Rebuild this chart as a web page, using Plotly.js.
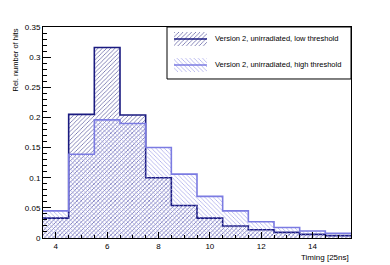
<!DOCTYPE html>
<html>
<head>
<meta charset="utf-8">
<script src="https://cdn.plot.ly/plotly-3.0.1.min.js"></script>
<style>html,body{margin:0;padding:0;background:#fff;}#chart{width:390px;height:265px;}</style>
</head>
<body>
<div id="chart"></div>
<script>
// Bin centres (Timing [25ns]), bin width 1
const binCenters = [4, 5, 6, 7, 8, 9, 10, 11, 12, 13, 14, 15];
const lowThreshold  = [0.033, 0.205, 0.316, 0.204, 0.100, 0.054, 0.033, 0.020, 0.0137, 0.0093, 0.006, 0.004];
const highThreshold = [0.045, 0.139, 0.196, 0.190, 0.150, 0.106, 0.069, 0.045, 0.027, 0.0175, 0.0116, 0.008];
const seriesNames = ["Version 2, unirradiated, low threshold", "Version 2, unirradiated, high threshold"];
const xTitle = "Timing [25ns]";
const yTitle = "Rel. number of hits";

function stepXY(centers, vals) {
  const xs = [], ys = [];
  centers.forEach((c, i) => { xs.push(c - 0.5); ys.push(vals[i]); });
  xs.push(centers[centers.length - 1] + 0.5);
  ys.push(vals[vals.length - 1]);
  return {xs, ys};
}

const darkCol = '#1a1a80';
const lightCol = '#7b7be2';
const darkHatch = '#4a4a96';
const lightHatch = '#9a9ae8';
const font = 'Liberation Sans, Arial, sans-serif';
const patSize = 3, patSolid = 0.22;

const lo = stepXY(binCenters, lowThreshold);
const hi = stepXY(binCenters, highThreshold);

function histTrace(st, name, col, hatch, shape) {
  return {
    type: 'scatter', mode: 'lines', name: name, showlegend: false,
    x: st.xs, y: st.ys,
    line: {shape: 'hv', color: col, width: 1.6},
    fill: 'tozeroy', fillcolor: 'rgba(0,0,0,0)',
    fillpattern: {shape: shape, size: patSize, solidity: patSolid, fgcolor: hatch, bgcolor: 'rgba(0,0,0,0)'},
    hoverinfo: 'skip'
  };
}

// Legend swatches drawn in a separate hidden 0..1 axis box placed where the legend sits
const rowY = [0.77, 0.27], halfH = 0.135, swX0 = 0.038, swX1 = 0.217;
function swatch(row, col, hatch, shape) {
  const y0 = rowY[row] - halfH, y1 = rowY[row] + halfH;
  return [
    {type: 'scatter', mode: 'none', xaxis: 'x2', yaxis: 'y2', showlegend: false, hoverinfo: 'skip',
     x: [swX0, swX1, swX1, swX0, swX0], y: [y0, y0, y1, y1, y0],
     fill: 'toself', fillcolor: 'rgba(0,0,0,0)',
     fillpattern: {shape: shape, size: patSize, solidity: patSolid, fgcolor: hatch, bgcolor: 'rgba(0,0,0,0)'}},
    {type: 'scatter', mode: 'lines', xaxis: 'x2', yaxis: 'y2', showlegend: false, hoverinfo: 'skip',
     x: [swX0, swX1], y: [rowY[row], rowY[row]], line: {color: col, width: 1.6}}
  ];
}

const traces = [
  histTrace(lo, seriesNames[0], darkCol, darkHatch, '/'),
  histTrace(hi, seriesNames[1], lightCol, lightHatch, '\\'),
  ...swatch(0, darkCol, darkHatch, '/'),
  ...swatch(1, lightCol, lightHatch, '\\')
];

const legX0 = 0.4026, legY0 = 0.7536;

const layout = {
  width: 390, height: 265,
  margin: {l: 43, r: 39, t: 27, b: 27, pad: 0},
  paper_bgcolor: '#fff', plot_bgcolor: '#fff',
  font: {family: font, size: 8, color: '#000'},
  showlegend: false,
  xaxis: {
    range: [3.5, 15.5], showgrid: false, zeroline: false,
    showline: true, linecolor: '#000', linewidth: 1, mirror: true,
    ticks: 'inside', ticklen: 6, tickcolor: '#000', tick0: 0, dtick: 2,
    minor: {dtick: 0.5, ticklen: 3, ticks: 'inside', tickcolor: '#000'},
    tickfont: {family: font, size: 8, color: '#000'}
  },
  yaxis: {
    range: [0, 0.35], showgrid: false, zeroline: false,
    showline: true, linecolor: '#000', linewidth: 1, mirror: true,
    ticks: 'inside', ticklen: 8, tickcolor: '#000', tick0: 0, dtick: 0.05,
    minor: {dtick: 0.01, ticklen: 4, ticks: 'inside', tickcolor: '#000'},
    tickfont: {family: font, size: 8, color: '#000'}
  },
  xaxis2: {domain: [legX0, 1], range: [0, 1], visible: false, anchor: 'y2', fixedrange: true},
  yaxis2: {domain: [legY0, 1], range: [0, 1], visible: false, anchor: 'x2', fixedrange: true},
  shapes: [
    {type: 'rect', xref: 'paper', yref: 'paper', x0: legX0, x1: 1, y0: legY0, y1: 1,
     line: {color: '#000', width: 1}, fillcolor: 'rgba(0,0,0,0)', layer: 'above'}
  ],
  annotations: [
    {text: xTitle, xref: 'paper', yref: 'paper', x: 1, y: -0.06, xanchor: 'right', yanchor: 'top',
     showarrow: false, font: {family: font, size: 8, color: '#000'}},
    {text: yTitle, xref: 'paper', yref: 'paper', x: -0.112, y: 1, xanchor: 'left', yanchor: 'top', textangle: -90,
     showarrow: false, font: {family: font, size: 7.5, color: '#000'}},
    {text: seriesNames[0], xref: 'x2', yref: 'y2', x: 0.25, y: rowY[0], xanchor: 'left', yanchor: 'middle',
     showarrow: false, font: {family: font, size: 7.5, color: '#000'}},
    {text: seriesNames[1], xref: 'x2', yref: 'y2', x: 0.25, y: rowY[1], xanchor: 'left', yanchor: 'middle',
     showarrow: false, font: {family: font, size: 7.5, color: '#000'}}
  ]
};

Plotly.newPlot('chart', traces, layout, {staticPlot: true, displayModeBar: false});
</script>
</body>
</html>
